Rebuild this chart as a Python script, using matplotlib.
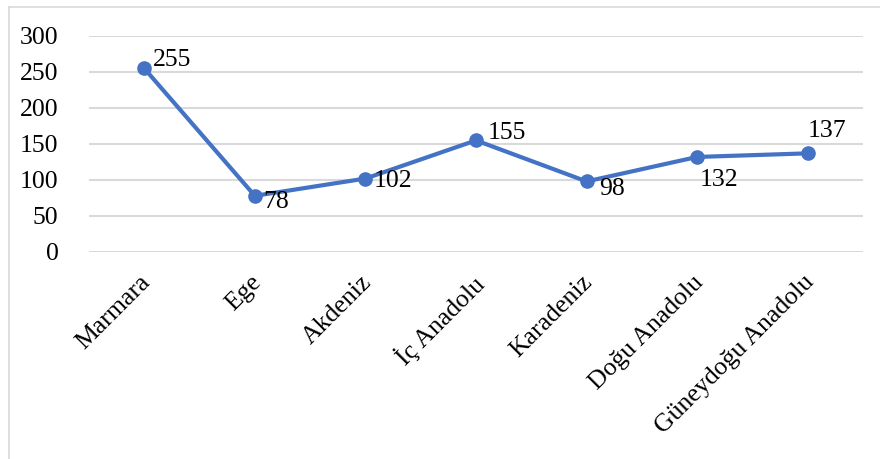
import matplotlib
matplotlib.use('Agg')
import matplotlib.pyplot as plt
from matplotlib.lines import Line2D

regions = ['Marmara', 'Ege', 'Akdeniz', 'İç Anadolu', 'Karadeniz', 'Doğu Anadolu', 'Güneydoğu Anadolu']
counts = [255, 78, 102, 155, 98, 132, 137]
yticks = [0, 50, 100, 150, 200, 250, 300]

# label offsets in pixels (dx, dy, ha, va)
label_pos = [(9, 8, 'left', 'center'), (8, -6, 'left', 'center'), (8, -2, 'left', 'center'),
             (12, 7, 'left', 'center'), (13, -8, 'left', 'center'), (3, -23, 'left', 'center'),
             (0, 22, 'left', 'center')]

plt.rcParams['font.family'] = ['Liberation Serif', 'DejaVu Serif']
plt.rcParams['font.size'] = 18.5

fig = plt.figure(figsize=(8.8, 4.59), dpi=100)
ax = fig.add_axes([0.1011, 0.451, 0.8796, 0.4706])

x = list(range(len(regions)))
ax.plot(x, counts, color='#4472C4', linewidth=3, marker='o', markersize=9.5, zorder=3)

for i, v in enumerate(counts):
    dx, dy, ha, va = label_pos[i]
    ax.annotate(str(v), (i, v), xytext=(dx, dy), textcoords='offset pixels',
                ha=ha, va=va, fontsize=18.5, color='black')

ax.set_xlim(-0.5, len(regions) - 0.5)
ax.set_ylim(0, 300)
ax.set_yticks(yticks)
ax.set_xticks(x)
ax.set_xticklabels(regions, rotation=45, ha='right', rotation_mode='anchor')
ax.tick_params(axis='both', length=0)
ax.tick_params(axis='y', pad=22)
ax.tick_params(axis='x', pad=14)
for lbl in ax.get_xticklabels():
    lbl.set_transform(lbl.get_transform() + matplotlib.transforms.ScaledTranslation(-0.05, 0, fig.dpi_scale_trans))

ax.grid(axis='y', color='#d9d9d9', linewidth=1.5)
ax.set_axisbelow(True)
for s in ax.spines.values():
    s.set_visible(False)

# chart border (top and left visible)
fig.add_artist(Line2D([9 / 880, 1], [1 - 7 / 459, 1 - 7 / 459], color='#d9d9d9', linewidth=1.2, transform=fig.transFigure))
fig.add_artist(Line2D([9 / 880, 9 / 880], [0, 1 - 7 / 459], color='#d9d9d9', linewidth=1.2, transform=fig.transFigure))

fig.savefig('out.png', dpi=100)
